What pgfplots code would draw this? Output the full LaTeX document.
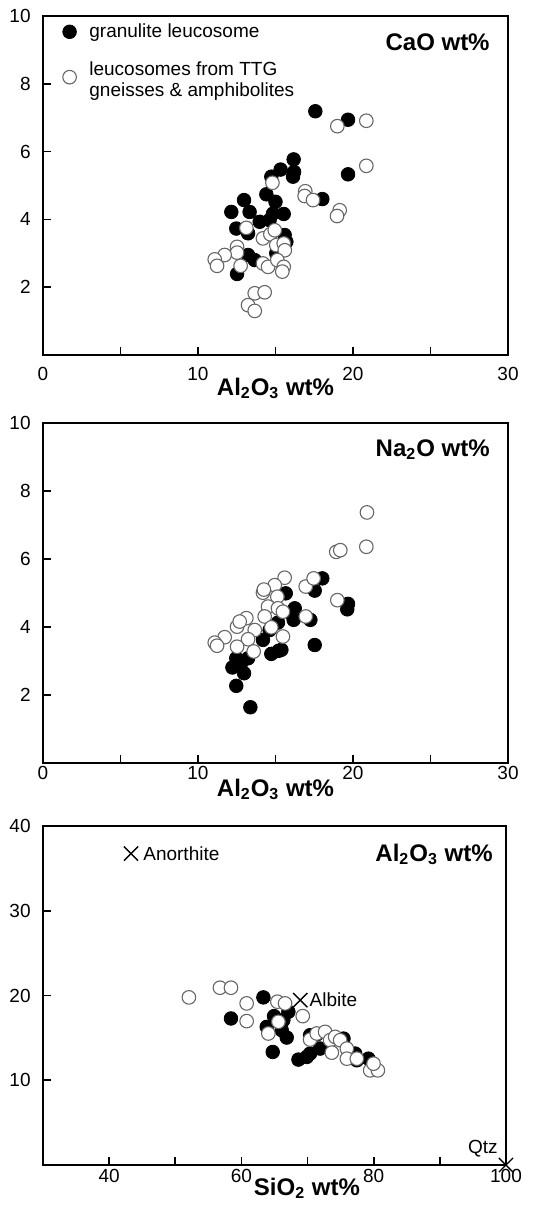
\documentclass[border=0pt]{standalone}
\usepackage{fontspec}
\setmainfont{Liberation Sans}
\usepackage{pgfplots}
\pgfplotsset{compat=1.18}

\pgfplotsset{
  panel/.style={
    scale only axis, clip=false,
    axis line style={line width=1pt},
    tick style={line width=0.8pt, black},
    major tick length=4pt,
    tick align=inside,
    xtick pos=bottom, ytick pos=left,
    ticklabel style={font=\fontsize{9.5}{11}\selectfont},
    /pgf/number format/assume math mode=true,
    yticklabel style={anchor=east, inner sep=0pt, xshift=-6pt},
    xlabel style={font=\fontsize{12}{14}\selectfont\bfseries, anchor=base, inner sep=0pt},
  },
  filled/.style={only marks, mark=*, mark size=3.4pt,
    mark options={fill=black, draw=black, line width=0.4pt}},
  open/.style={only marks, mark=*, mark size=3.4pt,
    mark options={fill=white, draw=black!60, line width=0.55pt}},
}
\tikzset{ttl/.style={anchor=base east, inner sep=0pt, font=\fontsize{12}{14}\selectfont\bfseries}}

\begin{document}
\begin{tikzpicture}
\useasboundingbox (0pt,0pt) rectangle (273pt,-607pt);

% CaO vs Al2O3
\begin{axis}[panel,
  at={(21.5pt,-177.5pt)}, anchor=south west,
  width=232.5pt, height=169.5pt,
  xmin=0, xmax=30, ymin=0, ymax=10,
  xtick={0,5,...,30}, xticklabels={0,,10,,20,,30},
  ytick={2,4,6,8,10},
  xticklabel style={anchor=base, inner sep=0pt, yshift=-12.5pt},
  xlabel={Al\textsubscript{2}O\textsubscript{3} wt\%},
  xlabel style={at={(axis description cs:0.5,0)}, yshift=-20pt},
  legend cell align=left,
  legend style={at={(axis description cs:0,1)}, anchor=north west,
    xshift=9.7pt, yshift=-3.5pt, draw=none, fill=none, inner sep=0pt,
    column sep=6.5pt, row sep=10.5pt, nodes={inner sep=0pt},
    font=\fontsize{9.5}{10.5}\selectfont},
]
\addplot[filled] coordinates {
(17.57,7.19) (19.68,6.94) (19.68,5.33) (16.17,5.77) (16.13,5.26) (15.33,5.47)
(14.73,5.26) (18.02,4.60) (14.41,4.74) (15.0,4.52) (15.53,4.16) (14.84,4.17)
(14.62,3.98) (13.98,3.93) (12.97,4.57) (13.33,4.22) (12.15,4.22) (12.47,3.73)
(13.23,3.59) (15.59,3.54) (15.7,3.34) (13.23,2.95) (13.66,2.80) (12.52,2.39)
(15.05,3.0) (16.2,5.4)
};
\addlegendentry{granulite leucosome}
\addplot[open] coordinates {
(18.99,6.75) (20.86,6.91) (20.86,5.58) (16.92,4.83) (16.88,4.69) (17.42,4.57)
(19.14,4.27) (18.97,4.10) (14.80,5.08) (13.12,3.75) (14.19,3.44) (14.67,3.56)
(14.95,3.68) (15.05,3.24) (15.53,3.29) (15.6,3.09) (12.52,3.19) (12.52,3.02)
(11.72,2.95) (11.08,2.82) (11.23,2.63) (12.75,2.63) (14.19,2.70) (14.52,2.60)
(15.12,2.80) (15.53,2.60) (15.44,2.46) (13.66,1.82) (14.3,1.85) (13.23,1.47)
(13.66,1.30)
};
\addlegendentry{\raisebox{1.75pt}{\begin{tabular}[c]{@{}l@{}}leucosomes from TTG\\gneisses \& amphibolites\end{tabular}}}
\node[ttl, xshift=-9pt, yshift=-17.25pt] at (rel axis cs:1,1) {CaO wt\%};
\end{axis}

% Na2O vs Al2O3
\begin{axis}[panel,
  at={(21.5pt,-381.5pt)}, anchor=south west,
  width=232.5pt, height=170pt,
  xmin=0, xmax=30, ymin=0, ymax=10,
  xtick={0,5,...,30}, xticklabels={0,,10,,20,,30},
  ytick={2,4,6,8,10},
  xticklabel style={anchor=base, inner sep=0pt, yshift=-8pt},
  xlabel={Al\textsubscript{2}O\textsubscript{3} wt\%},
  xlabel style={at={(axis description cs:0.5,0)}, yshift=-16.5pt},
]
\addplot[filled] coordinates {
(18.02,5.43) (17.53,5.07) (15.66,4.99) (16.24,4.55) (16.17,4.21) (16.1,4.35)
(17.25,4.21) (19.68,4.68) (19.63,4.52) (17.53,3.47) (15.16,4.13) (14.62,3.91)
(14.19,3.62) (14.73,3.21) (15.38,3.33) (15.2,3.3) (12.47,3.08) (13.23,3.08)
(12.22,2.81) (12.97,2.64) (12.47,2.27) (13.38,1.64) (12.8,2.95)
};
\addplot[open] coordinates {
(20.9,7.37) (20.86,6.36) (18.92,6.21) (19.18,6.26) (18.99,4.79) (15.59,5.45)
(14.95,5.23) (14.19,5.01) (14.25,5.1) (16.95,5.19) (17.46,5.43) (15.12,4.89)
(14.52,4.60) (15.16,4.55) (15.48,4.45) (14.30,4.31) (16.95,4.31) (14.73,3.99)
(15.48,3.72) (13.12,4.26) (12.52,4.01) (12.69,4.16) (13.66,3.91) (13.23,3.64)
(11.72,3.70) (11.08,3.54) (11.23,3.45) (12.52,3.42) (13.59,3.28)
};
\node[ttl, xshift=-9pt, yshift=-16.5pt] at (rel axis cs:1,1) {Na\textsubscript{2}O wt\%};
\end{axis}

% Al2O3 vs SiO2
\begin{axis}[panel,
  at={(21.5pt,-582.5pt)}, anchor=south west,
  width=231.5pt, height=169.5pt,
  xmin=30, xmax=100, ymin=0, ymax=40,
  xtick={40,50,...,100}, xticklabels={40,,60,,80,,100},
  ytick={10,20,30,40},
  xticklabel style={anchor=base, inner sep=0pt, yshift=-8.5pt},
  xlabel={SiO\textsubscript{2} wt\%},
  xlabel style={at={(axis description cs:0.57,0)}, yshift=-15pt},
]
\addplot[filled] coordinates {
(58.42,17.29) (63.32,19.78) (63.82,16.30) (64.93,17.57) (66.34,17.09) (67.1,18.08)
(66.09,15.91) (66.85,15.04) (64.73,13.34) (68.62,12.44) (69.88,12.75) (70.38,13.15)
(71.39,15.4) (70.38,15.32) (71.9,13.74) (75.43,14.92) (77.2,13.15) (77.45,12.36)
(79.2,12.55)
};
\addplot[open] coordinates {
(52.06,19.78) (56.75,20.92) (58.42,20.92) (60.79,19.07) (60.79,16.98) (65.44,19.27)
(66.6,19.07) (69.27,17.57) (65.59,16.90) (64.07,15.52) (70.38,14.80) (71.39,15.52)
(72.65,15.71) (73.41,14.73) (74.17,15.12) (74.93,14.73) (73.67,13.26) (75.94,13.74)
(75.94,12.55) (77.45,12.55) (79.47,11.17) (80.63,11.17) (79.97,11.96)
};
\addplot[only marks, mark=x, mark size=5pt, mark options={line width=0.7pt, draw=black}]
  coordinates {(43.3,36.75) (68.9,19.46) (100,0)};
\node[anchor=west, inner sep=0pt, xshift=6pt, font=\fontsize{9.5}{11}\selectfont] at (axis cs:43.3,36.75) {Anorthite};
\node[anchor=west, inner sep=0pt, xshift=4.5pt, font=\fontsize{9.5}{11}\selectfont] at (axis cs:68.9,19.46) {Albite};
\node[anchor=base east, inner sep=0pt, xshift=-4pt, yshift=6pt, font=\fontsize{9.5}{11}\selectfont] at (axis cs:100,0) {Qtz};
\node[ttl, xshift=-6.5pt, yshift=-17.5pt] at (rel axis cs:1,1) {Al\textsubscript{2}O\textsubscript{3} wt\%};
\end{axis}
\end{tikzpicture}
\end{document}
